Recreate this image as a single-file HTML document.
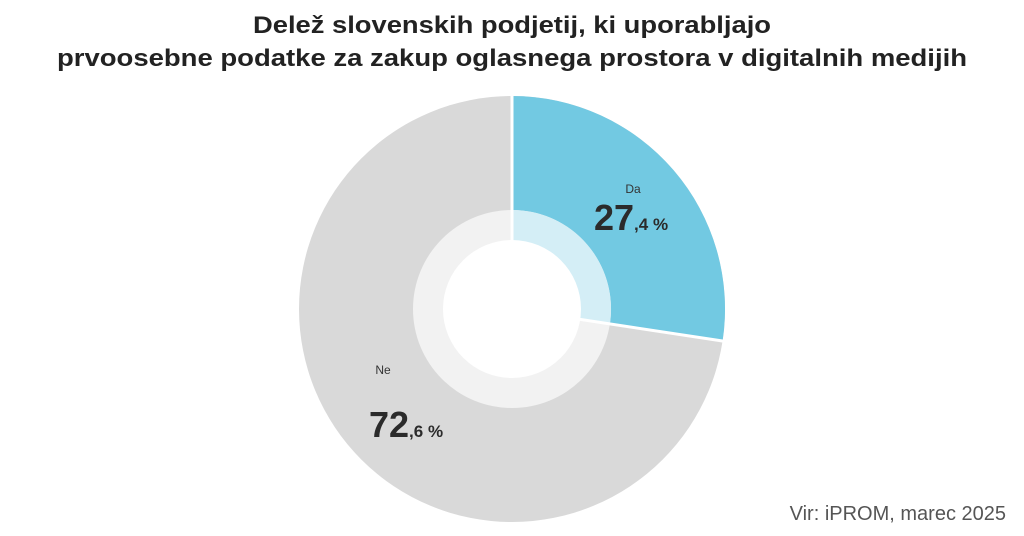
<!DOCTYPE html>
<html><head><meta charset="utf-8"><style>
html,body{margin:0;padding:0;background:#fff;}
svg{display:block;font-family:"Liberation Sans",sans-serif;}
</style></head><body>
<svg width="1024" height="536" viewBox="0 0 1024 536">
<text x="512" y="33" text-anchor="middle" font-size="24" font-weight="bold" fill="#222" textLength="518" lengthAdjust="spacingAndGlyphs">Delež slovenskih podjetij, ki uporabljajo</text>
<text x="512" y="66" text-anchor="middle" font-size="24" font-weight="bold" fill="#222" textLength="910" lengthAdjust="spacingAndGlyphs">prvoosebne podatke za zakup oglasnega prostora v digitalnih medijih</text>
<circle cx="512" cy="309" r="213" fill="#D9D9D9"/>
<path d="M512 309 L512 96 A213 213 0 0 1 722.6 341 Z" fill="#72C9E2"/>
<circle cx="512" cy="309" r="99" fill="#F2F2F2"/>
<path d="M512 309 L512 210 A99 99 0 0 1 609.9 323.9 Z" fill="#D4EEF6"/>
<circle cx="512" cy="309" r="69" fill="#fff"/>
<line x1="512" y1="309" x2="512" y2="94" stroke="#fff" stroke-width="3"/>
<line x1="512" y1="309" x2="725" y2="341.4" stroke="#fff" stroke-width="3"/>
<circle cx="512" cy="309" r="68" fill="#fff"/>
<text x="633" y="193" text-anchor="middle" font-size="12" fill="#333">Da</text>
<text x="594" y="230" font-size="36" font-weight="bold" fill="#2b2b2b">27<tspan font-size="17">,4 %</tspan></text>
<text x="383" y="374" text-anchor="middle" font-size="12" fill="#333">Ne</text>
<text x="369" y="437" font-size="36" font-weight="bold" fill="#2b2b2b">72<tspan font-size="17">,6 %</tspan></text>
<text x="1006" y="520" text-anchor="end" font-size="20" fill="#555">Vir: iPROM, marec 2025</text>
</svg>
</body></html>
